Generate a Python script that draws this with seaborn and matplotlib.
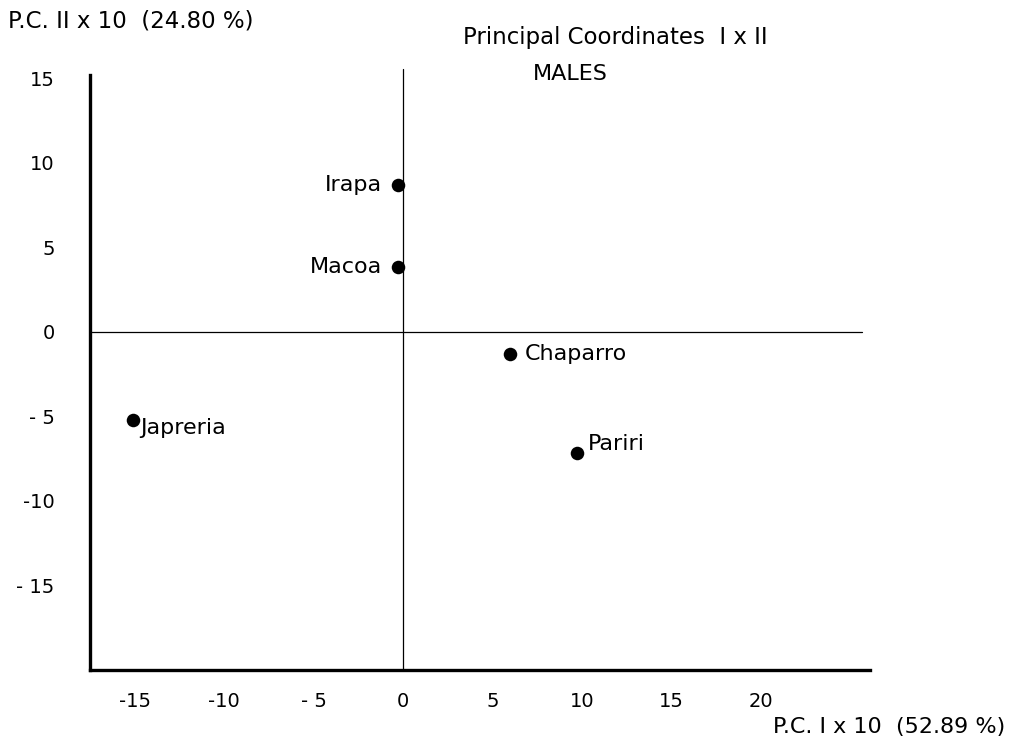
import pandas as pd
import seaborn as sns
import matplotlib.pyplot as plt

# Principal coordinates, males (scores x 10)
populations = ['Irapa', 'Macoa', 'Chaparro', 'Pariri', 'Japreria']
pc1 = [-0.3, -0.3, 6.0, 9.7, -15.1]
pc2 = [8.7, 3.85, -1.3, -7.15, -5.2]

x_ticks = [-15, -10, -5, 0, 5, 10, 15, 20]
x_labels = ['-15', '-10', '- 5', '0', '5', '10', '15', '20']
y_ticks = [15, 10, 5, 0, -5, -10, -15]
y_labels = ['15', '10', '5', '0', '- 5', '-10', '- 15']

df = pd.DataFrame({'pop': populations, 'pc1': pc1, 'pc2': pc2})

sns.set_style('white')
plt.rcParams['font.family'] = ['DejaVu Sans']
plt.rcParams['text.color'] = 'black'

fig = plt.figure(figsize=(10.12, 7.45), dpi=100)
ax = fig.add_axes([0.0889, 0.1007, 0.7708, 0.7987])

# zero lines
ax.axhline(0, xmin=0, xmax=0.99, color='black', lw=0.9, zorder=1)
ax.axvline(0, ymin=0, ymax=1.01, color='black', lw=0.9, zorder=1, clip_on=False)

sns.scatterplot(data=df, x='pc1', y='pc2', color='black', s=95,
                edgecolor='black', linewidth=0, ax=ax, zorder=3)

# label offsets in points (dx, dy, ha)
offsets = {'Irapa': (-11, 0, 'right'), 'Macoa': (-11, 0, 'right'),
           'Chaparro': (10, 0, 'left'), 'Pariri': (8, 6, 'left'),
           'Japreria': (5, -6, 'left')}
for _, r in df.iterrows():
    dx, dy, ha = offsets[r['pop']]
    ax.annotate(r['pop'], (r['pc1'], r['pc2']), xytext=(dx, dy),
                textcoords='offset points', ha=ha, va='center',
                fontsize=16, color='black')

ax.set_xlim(-17.5, 26.1)
ax.set_ylim(-20.0, 15.2)
ax.set_xticks(x_ticks)
ax.set_xticklabels(x_labels)
ax.set_yticks(y_ticks)
ax.set_yticklabels(y_labels)
ax.tick_params(axis='both', direction='inout', length=7, width=1.3,
               labelsize=14, colors='black')
ax.tick_params(axis='x', pad=12)
ax.tick_params(axis='y', pad=22)
ax.set_xlabel('')
ax.set_ylabel('')

for side in ['top', 'right']:
    ax.spines[side].set_visible(False)
for side in ['left', 'bottom']:
    ax.spines[side].set_linewidth(2.4)
    ax.spines[side].set_color('black')

fig.text(0.008, 0.972, 'P.C. II x 10  (24.80 %)', fontsize=16.5, ha='left', va='center')
fig.text(0.608, 0.950, 'Principal Coordinates  I x II', fontsize=16.5, ha='center', va='center')
fig.text(0.564, 0.901, 'MALES', fontsize=16, ha='center', va='center')
fig.text(0.993, 0.024, 'P.C. I x 10  (52.89 %)', fontsize=16, ha='right', va='center')

plt.savefig('out.png', dpi=100)
